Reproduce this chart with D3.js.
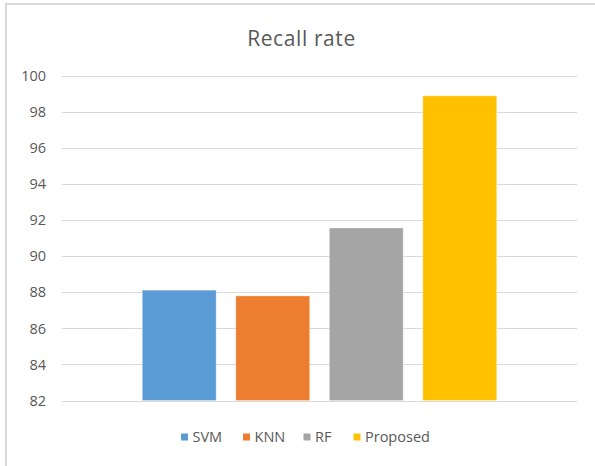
<!DOCTYPE html>
<html><head><meta charset="utf-8">
<script src="https://cdn.jsdelivr.net/npm/d3@7"></script>
<style>body{margin:0;background:#fff;}svg{display:block;font-family:"Open Sans","DejaVu Sans",sans-serif;}</style>
</head><body>
<script>
const series = ["SVM", "KNN", "RF", "Proposed"];
const values = [88.12, 87.8, 91.57, 98.9];
const colors = ["#5B9BD5", "#ED7D31", "#A5A5A5", "#FFC000"];
const yTicks = [82, 84, 86, 88, 90, 92, 94, 96, 98, 100];
const title = "Recall rate";

const W = 595, H = 466;
const svg = d3.select("body").append("svg").attr("width", W).attr("height", H);

// chart frame
svg.append("rect").attr("x", 6).attr("y", 4).attr("width", W + 10).attr("height", H + 10)
  .attr("fill", "#fff").attr("stroke", "#d9d9d9").attr("stroke-width", 2);

const plotLeft = 62, plotRight = 577;
const y = d3.scaleLinear().domain([82, 100]).range([400.5, 76]);
const x = d3.scaleBand().domain(series).range([142.3, 496.7]).paddingInner(0.21).paddingOuter(0);

// gridlines
svg.append("g").selectAll("line").data(yTicks).join("line")
  .attr("x1", plotLeft).attr("x2", plotRight)
  .attr("y1", d => Math.round(y(d)) + 0.5).attr("y2", d => Math.round(y(d)) + 0.5)
  .attr("stroke", "#d9d9d9").attr("stroke-width", 1);

// y axis labels
const yAxis = d3.axisLeft(y).tickValues(yTicks).tickSize(0).tickPadding(0);
const ga = svg.append("g").attr("transform", "translate(46,0)").call(yAxis);
ga.select(".domain").remove();
ga.selectAll("text").attr("fill", "#595959").style("font-size", "14.5px")
  .style("font-family", "'Open Sans', sans-serif");

// bars
svg.append("g").selectAll("rect").data(series).join("rect")
  .attr("x", d => x(d)).attr("width", x.bandwidth())
  .attr("y", (d, i) => y(values[i])).attr("height", (d, i) => y(82) - y(values[i]))
  .attr("fill", (d, i) => colors[i])
  .attr("stroke", "rgba(255,255,255,0.3)").attr("stroke-width", 1);

// title
svg.append("text").attr("x", 301.5).attr("y", 46).attr("text-anchor", "middle")
  .attr("fill", "#595959").style("font-size", "21px").style("letter-spacing", "0.6px").text(title);

// legend
const legendX = [181, 243, 303.5, 353.5];
const lg = svg.append("g").selectAll("g").data(series).join("g")
  .attr("transform", (d, i) => `translate(${legendX[i]},437)`);
lg.append("rect").attr("x", 0).attr("y", -3.5).attr("width", 7).attr("height", 7)
  .attr("fill", (d, i) => colors[i]);
lg.append("text").attr("x", 11.5).attr("y", 0).attr("dy", "0.35em")
  .attr("fill", "#595959").style("font-size", "14.5px").text(d => d);
</script>
</body></html>
